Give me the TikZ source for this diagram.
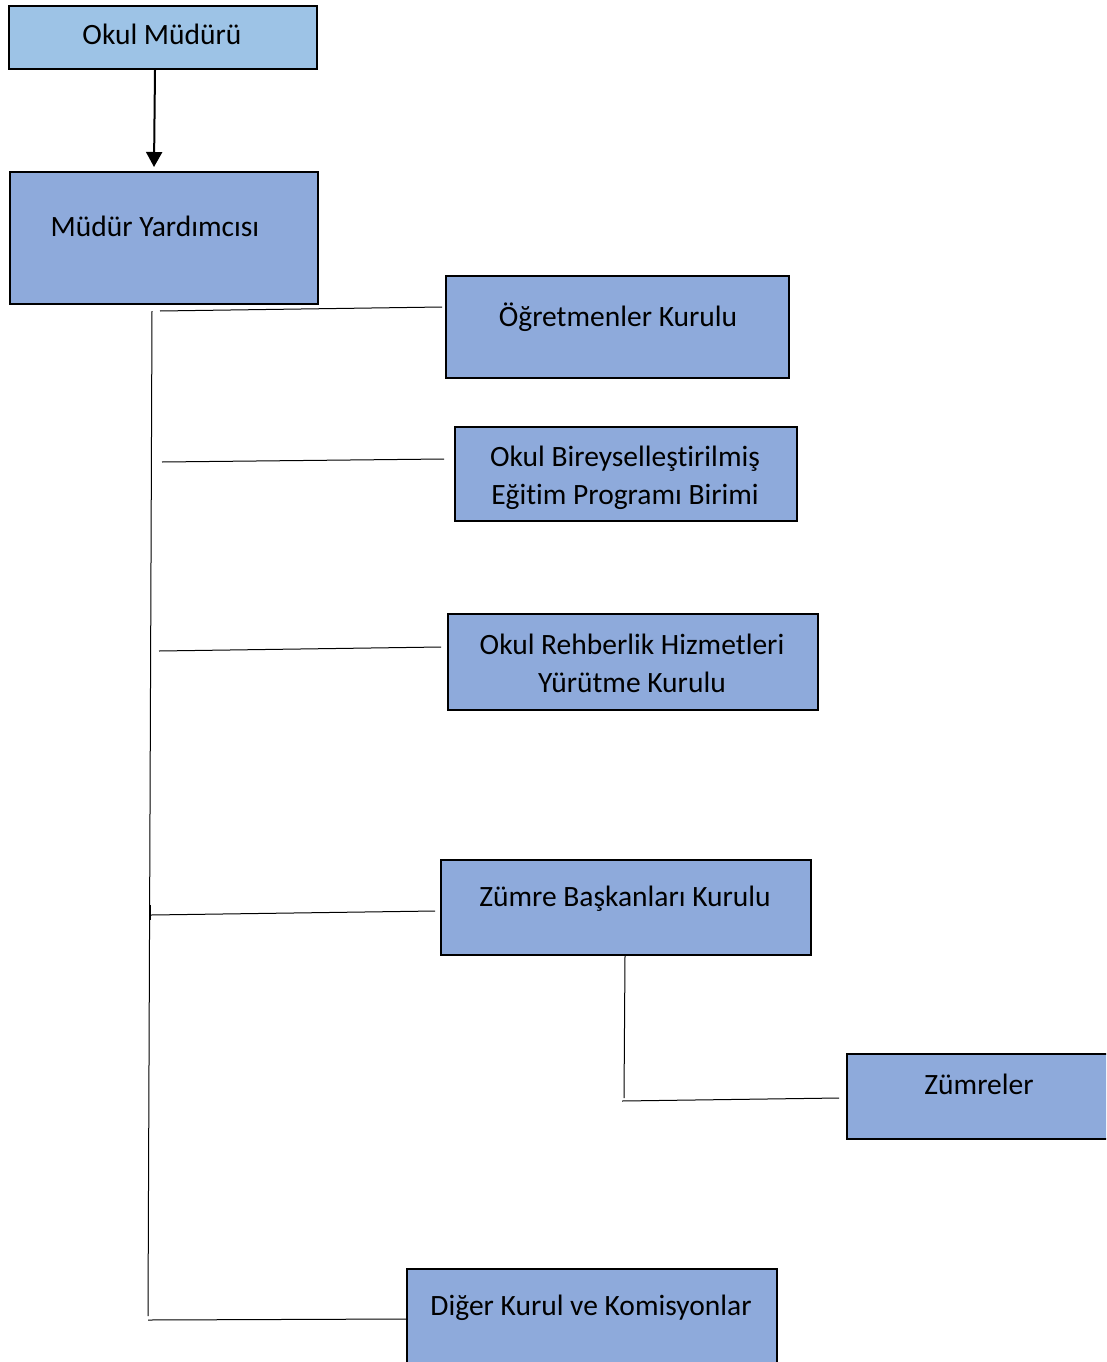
\documentclass[tikz,border=0pt]{standalone}
\usepackage{fontspec}
\setmainfont{Carlito}[Ligatures=NoCommon]
\usetikzlibrary{arrows.meta}
\definecolor{topblue}{HTML}{9DC3E6}
\definecolor{boxblue}{HTML}{8EAADB}
\tikzset{
  orgbox/.style={draw=black, line width=2.2pt, fill=boxblue, inner sep=0pt, anchor=north west},
  lbl/.style={anchor=base, inner sep=0pt, align=center, font=\fontsize{29.5}{38}\selectfont},
  conn/.style={draw=black, line width=1pt},
}
\begin{document}
\begin{tikzpicture}[x=1pt,y=-1pt]
\useasboundingbox (0,0) rectangle (1106,1362);
\clip (0,0) rectangle (1106,1362);
% boxes
\node[orgbox, fill=topblue, minimum width=308pt, minimum height=63pt] (mudur) at (8,5) {};
\node[orgbox, minimum width=308pt, minimum height=132pt] (yard) at (9,171) {};
\node[orgbox, minimum width=343pt, minimum height=102pt] (ogret) at (445,275) {};
\node[orgbox, minimum width=342pt, minimum height=94pt] (bep) at (454,426) {};
\node[orgbox, minimum width=370pt, minimum height=96pt] (rehber) at (447,613) {};
\node[orgbox, minimum width=370pt, minimum height=95pt] (zumreb) at (440,859) {};
\node[orgbox, minimum width=290pt, minimum height=85pt] (zumre) at (846,1053) {};
\node[orgbox, minimum width=370pt, minimum height=130pt] (diger) at (406,1268) {};
% labels
\node[lbl] (tmudur) at (162,45) {Okul Müdürü};
\node[lbl] (tyard) at (155,236) {Müdür Yardımcısı};
\node[lbl] (togret) at (618,326) {Öğretmenler Kurulu};
\node[lbl] (tbep) at (625,504) {Okul Bireyselleştirilmiş\\Eğitim Programı Birimi};
\node[lbl] (trehber) at (632,692) {Okul Rehberlik Hizmetleri\\Yürütme Kurulu};
\node[lbl] (tzumreb) at (625,906) {Zümre Başkanları Kurulu};
\node[lbl] (tzumre) at (979,1094) {Zümreler};
\node[lbl] (tdiger) at (591,1315) {Diğer Kurul ve Komisyonlar};
% arrow
\coordinate (arrEnd) at (154,167);
\draw[line width=2pt, -{Triangle[length=15pt,width=16pt]}] (mudur.south -| 155,0) -- (arrEnd);
% trunk
\coordinate (trunkTop) at (152,311);
\coordinate (trunkBot) at (148,1316);
\draw[conn] (trunkTop) -- (trunkBot);
\draw[conn, line width=1.5pt] (150.5,905) -- (150.5,920);
% branches
\coordinate (b1) at (160,311);
\coordinate (e1) at (442,307);
\draw[conn] (b1) -- (e1);
\coordinate (b2) at (162,462);
\coordinate (e2) at (444,459);
\draw[conn] (b2) -- (e2);
\coordinate (b3) at (159,651);
\coordinate (e3) at (441,647);
\draw[conn] (b3) -- (e3);
\coordinate (b4) at (151,915);
\coordinate (e4) at (435,911);
\draw[conn] (b4) -- (e4);
\coordinate (b5) at (148,1320);
\draw[conn] (b5) -- (diger.west |- 0,1319);
% zumre sub-branch
\coordinate (zdown) at (624,1098);
\draw[conn] (zumreb.south -| 625,0) -- (zdown);
\coordinate (zb) at (622,1101);
\coordinate (ze) at (839,1098);
\draw[conn] (zb) -- (ze);
\end{tikzpicture}
\end{document}
